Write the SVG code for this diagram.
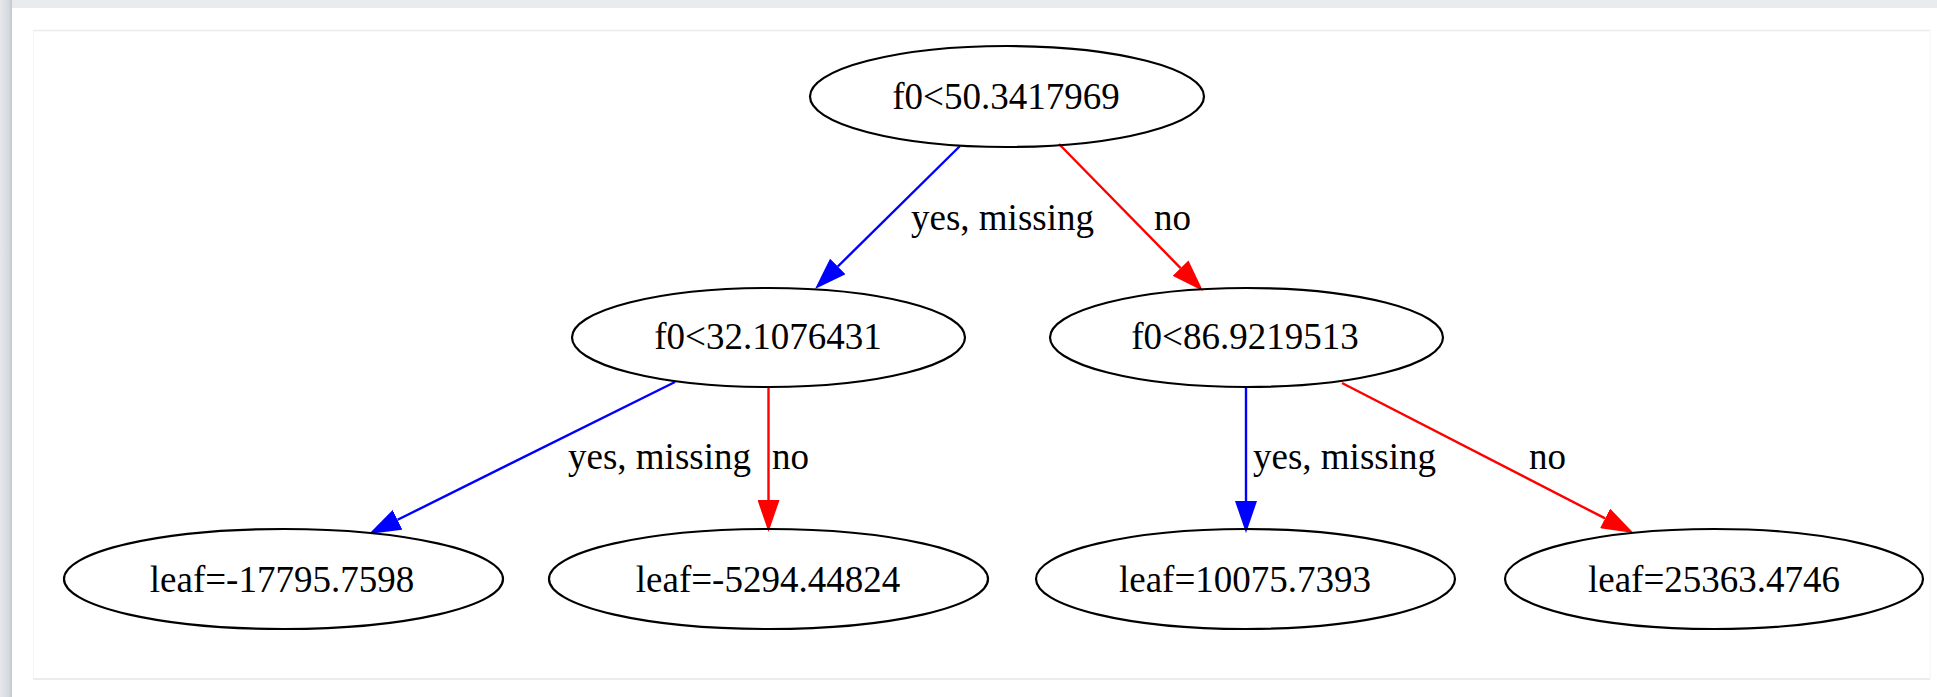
<svg xmlns="http://www.w3.org/2000/svg" width="1937" height="697" viewBox="0 0 1937 697">
<defs>
<style>
.node ellipse{fill:none;stroke:#000;stroke-width:2.2}
.node text{font-family:"Liberation Serif","Times New Roman",serif;font-size:37px;fill:#000;text-anchor:middle}
.edge{fill:none;stroke-width:2.4}
.yes{stroke:#0000ff}
.no{stroke:#ff0000}
.elabel{font-family:"Liberation Serif","Times New Roman",serif;font-size:37px;fill:#000;text-anchor:middle}
</style>
<marker id="ab" viewBox="0 0 32 22" refX="0" refY="11" markerWidth="32" markerHeight="22" markerUnits="userSpaceOnUse" orient="auto"><path d="M0,0 L32,11 L0,22 z" fill="#0000ff"/></marker>
<marker id="ar" viewBox="0 0 32 22" refX="0" refY="11" markerWidth="32" markerHeight="22" markerUnits="userSpaceOnUse" orient="auto"><path d="M0,0 L32,11 L0,22 z" fill="#ff0000"/></marker>
<linearGradient id="side" x1="0" y1="0" x2="1" y2="0">
<stop offset="0" stop-color="#e6e8ec"/><stop offset="0.7" stop-color="#d6d9de"/><stop offset="1" stop-color="#c4c7cc"/>
</linearGradient>
</defs>
<rect x="0" y="0" width="1937" height="697" fill="#ffffff"/>
<rect x="0" y="0" width="1937" height="8" fill="#e9ebef"/>
<rect x="0" y="0" width="12" height="697" fill="url(#side)"/>
<line x1="33" y1="30.5" x2="1930" y2="30.5" stroke="#ebebeb" stroke-width="1.5"/>
<line x1="33" y1="679" x2="1930" y2="679" stroke="#e6e6e6" stroke-width="1.5"/>
<line x1="33.5" y1="30" x2="33.5" y2="679" stroke="#f4f4f4" stroke-width="1"/>
<line x1="1930" y1="30" x2="1930" y2="679" stroke="#f4f4f4" stroke-width="1"/>

<g id="edges">
<line class="edge yes" x1="960" y1="146" x2="837.8" y2="266.5" marker-end="url(#ab)"/>
<line class="edge no" x1="1059" y1="144" x2="1180.6" y2="268.1" marker-end="url(#ar)"/>
<line class="edge yes" x1="675" y1="382" x2="397.6" y2="519.8" marker-end="url(#ab)"/>
<line class="edge no" x1="768.5" y1="387" x2="768.5" y2="500" marker-end="url(#ar)"/>
<line class="edge yes" x1="1246" y1="387" x2="1246" y2="501" marker-end="url(#ab)"/>
<line class="edge no" x1="1342" y1="383" x2="1605.1" y2="518.4" marker-end="url(#ar)"/>
<text class="elabel" x="1002.5" y="230">yes, missing</text>
<text class="elabel" x="1172.5" y="230">no</text>
<text class="elabel" x="659.5" y="469">yes, missing</text>
<text class="elabel" x="790.5" y="469">no</text>
<text class="elabel" x="1344.5" y="469">yes, missing</text>
<text class="elabel" x="1547.5" y="469">no</text>
</g>

<g id="n0" class="node"><ellipse cx="1007" cy="96.5" rx="197" ry="50.5"/><text x="1006" y="109">f0&lt;50.3417969</text></g>
<g id="n1" class="node"><ellipse cx="768.5" cy="337.5" rx="196.5" ry="49.5"/><text x="768" y="349">f0&lt;32.1076431</text></g>
<g id="n2" class="node"><ellipse cx="1246.5" cy="337.5" rx="196.5" ry="49.5"/><text x="1245" y="349">f0&lt;86.9219513</text></g>
<g id="n3" class="node"><ellipse cx="283.5" cy="579" rx="219.5" ry="50"/><text x="282" y="592">leaf=-17795.7598</text></g>
<g id="n4" class="node"><ellipse cx="768.5" cy="579" rx="219.5" ry="50"/><text x="768" y="592">leaf=-5294.44824</text></g>
<g id="n5" class="node"><ellipse cx="1245.5" cy="579" rx="209.5" ry="50"/><text x="1245" y="592">leaf=10075.7393</text></g>
<g id="n6" class="node"><ellipse cx="1714" cy="579" rx="209" ry="50"/><text x="1714" y="592">leaf=25363.4746</text></g>
</svg>
